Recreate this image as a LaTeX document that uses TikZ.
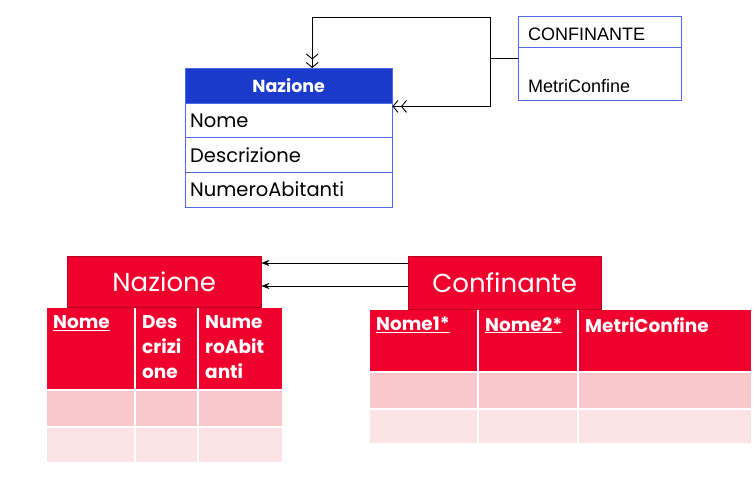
\documentclass[tikz,border=0pt]{standalone}
\usepackage{fontspec}
\setmainfont{Poppins}
\newfontfamily\umlfont{Liberation Sans}
\usetikzlibrary{positioning, arrows.meta, calc}
\definecolor{umlblue}{RGB}{26,58,204}
\definecolor{umledge}{RGB}{80,105,230}
\definecolor{tabred}{RGB}{240,0,44}
\definecolor{tabedge}{RGB}{185,0,35}
\definecolor{rowdark}{RGB}{250,200,203}
\definecolor{rowlight}{RGB}{252,228,230}

\begin{document}
\begin{tikzpicture}[x=1pt, y=-1pt,
    umlhead/.style={draw=umledge, fill=umlblue, text=white, anchor=north west,
      minimum width=207pt, minimum height=35pt, inner sep=0pt,
      font=\bfseries\fontsize{17.5}{20}\selectfont},
    umlrow/.style={draw=umledge, fill=white, anchor=north west,
      minimum width=207pt, minimum height=34.5pt, inner sep=0pt,
      text width=197pt, align=left, font=\fontsize{19.5}{22}\selectfont},
    umlbox/.style={draw=umledge, fill=white, anchor=north west,
      minimum width=163pt, inner sep=0pt},
    umltext/.style={font=\umlfont\fontsize{18}{21}\selectfont, inner sep=0pt},
    tabhead/.style={draw=tabedge, fill=tabred, text=white, anchor=north west,
      inner sep=0pt, font=\fontsize{26}{30}\selectfont},
    headcell/.style={draw=white, line width=1.5pt, fill=tabred, anchor=north west, inner sep=0pt},
    darkcell/.style={headcell, fill=rowdark},
    lightcell/.style={headcell, fill=rowlight},
    celltext/.style={text=white, inner sep=0pt, align=left,
      font=\bfseries\fontsize{18.5}{25}\selectfont},
    dblarr/.style={line width=0.9pt,
      -{Straight Barb[length=5pt,width=12pt,sep=2.5pt] Straight Barb[length=5pt,width=12pt]}},
    fk/.style={-{Stealth[length=8pt,width=6pt]}, thin}]
  \useasboundingbox (0,0) rectangle (755,492);

  % schema concettuale
  \node[umlhead] (nazhead) at (185,68) {Nazione};
  \node[umlrow] (nazname) at (185,103) {Nome};
  \node[umlrow] (nazdesc) at (185,137.5) {Descrizione};
  \node[umlrow] (nazab) at (185,172) {NumeroAbitanti};

  \node[umlbox, minimum height=31pt] (confname) at (518,16) {};
  \node[umlbox, minimum height=53pt] (confattr) at (518,47) {};
  \node[umltext, anchor=west] (conftitle) at (528,34) {CONFINANTE};
  \node[umltext, anchor=west] (confmetri) at (528,86) {MetriConfine};

  \coordinate (jn) at (490,58);
  \draw (confname.west |- jn) -- (jn);
  \draw[dblarr] (jn) -- (490,17) -| ([xshift=23.5pt]nazhead.north);
  \draw[dblarr] (jn) |- ([yshift=-3pt]nazhead.south east);

  % schema logico: Nazione
  \node[headcell, minimum width=89pt, minimum height=83pt] (n1) at (45,306) {};
  \node[headcell, minimum width=63pt, minimum height=83pt] (n2) at (134,306) {};
  \node[headcell, minimum width=85pt, minimum height=83pt] (n3) at (197,306) {};
  \node[darkcell, minimum width=89pt, minimum height=37pt] (n1a) at (45,389) {};
  \node[darkcell, minimum width=63pt, minimum height=37pt] (n2a) at (134,389) {};
  \node[darkcell, minimum width=85pt, minimum height=37pt] (n3a) at (197,389) {};
  \node[lightcell, minimum width=89pt, minimum height=36pt] (n1b) at (45,426) {};
  \node[lightcell, minimum width=63pt, minimum height=36pt] (n2b) at (134,426) {};
  \node[lightcell, minimum width=85pt, minimum height=36pt] (n3b) at (197,426) {};
  \node[celltext, below right=9pt and 8pt of n1.north west] (n1t) {\underline{Nome}};
  \node[celltext, below right=9pt and 8pt of n2.north west] (n2t) {Des\\crizi\\one};
  \node[celltext, below right=9pt and 8pt of n3.north west] (n3t) {Nume\\roAbit\\anti};
  \node[tabhead, minimum width=194pt, minimum height=51pt] (naztab) at (67,256) {Nazione};

  % schema logico: Confinante
  \node[headcell, minimum width=109pt, minimum height=63pt] (c1) at (368,308) {};
  \node[headcell, minimum width=100pt, minimum height=63pt] (c2) at (477,308) {};
  \node[headcell, minimum width=174pt, minimum height=63pt] (c3) at (577,308) {};
  \node[darkcell, minimum width=109pt, minimum height=37pt] (c1a) at (368,371) {};
  \node[darkcell, minimum width=100pt, minimum height=37pt] (c2a) at (477,371) {};
  \node[darkcell, minimum width=174pt, minimum height=37pt] (c3a) at (577,371) {};
  \node[lightcell, minimum width=109pt, minimum height=35pt] (c1b) at (368,408) {};
  \node[lightcell, minimum width=100pt, minimum height=35pt] (c2b) at (477,408) {};
  \node[lightcell, minimum width=174pt, minimum height=35pt] (c3b) at (577,408) {};
  \node[celltext, below right=9pt and 8pt of c1.north west] (c1t) {\underline{Nome1*}};
  \node[celltext, below right=9pt and 8pt of c2.north west] (c2t) {\underline{Nome2*}};
  \node[celltext, below right=9pt and 8pt of c3.north west] (c3t) {MetriConfine};
  \node[tabhead, minimum width=193pt, minimum height=53pt] (conftab) at (408,256) {Confinante};

  \draw[fk] (conftab.west |- 0,263) -- (naztab.east |- 0,263);
  \draw[fk] (conftab.west |- 0,286) -- (naztab.east |- 0,286);
\end{tikzpicture}
\end{document}
